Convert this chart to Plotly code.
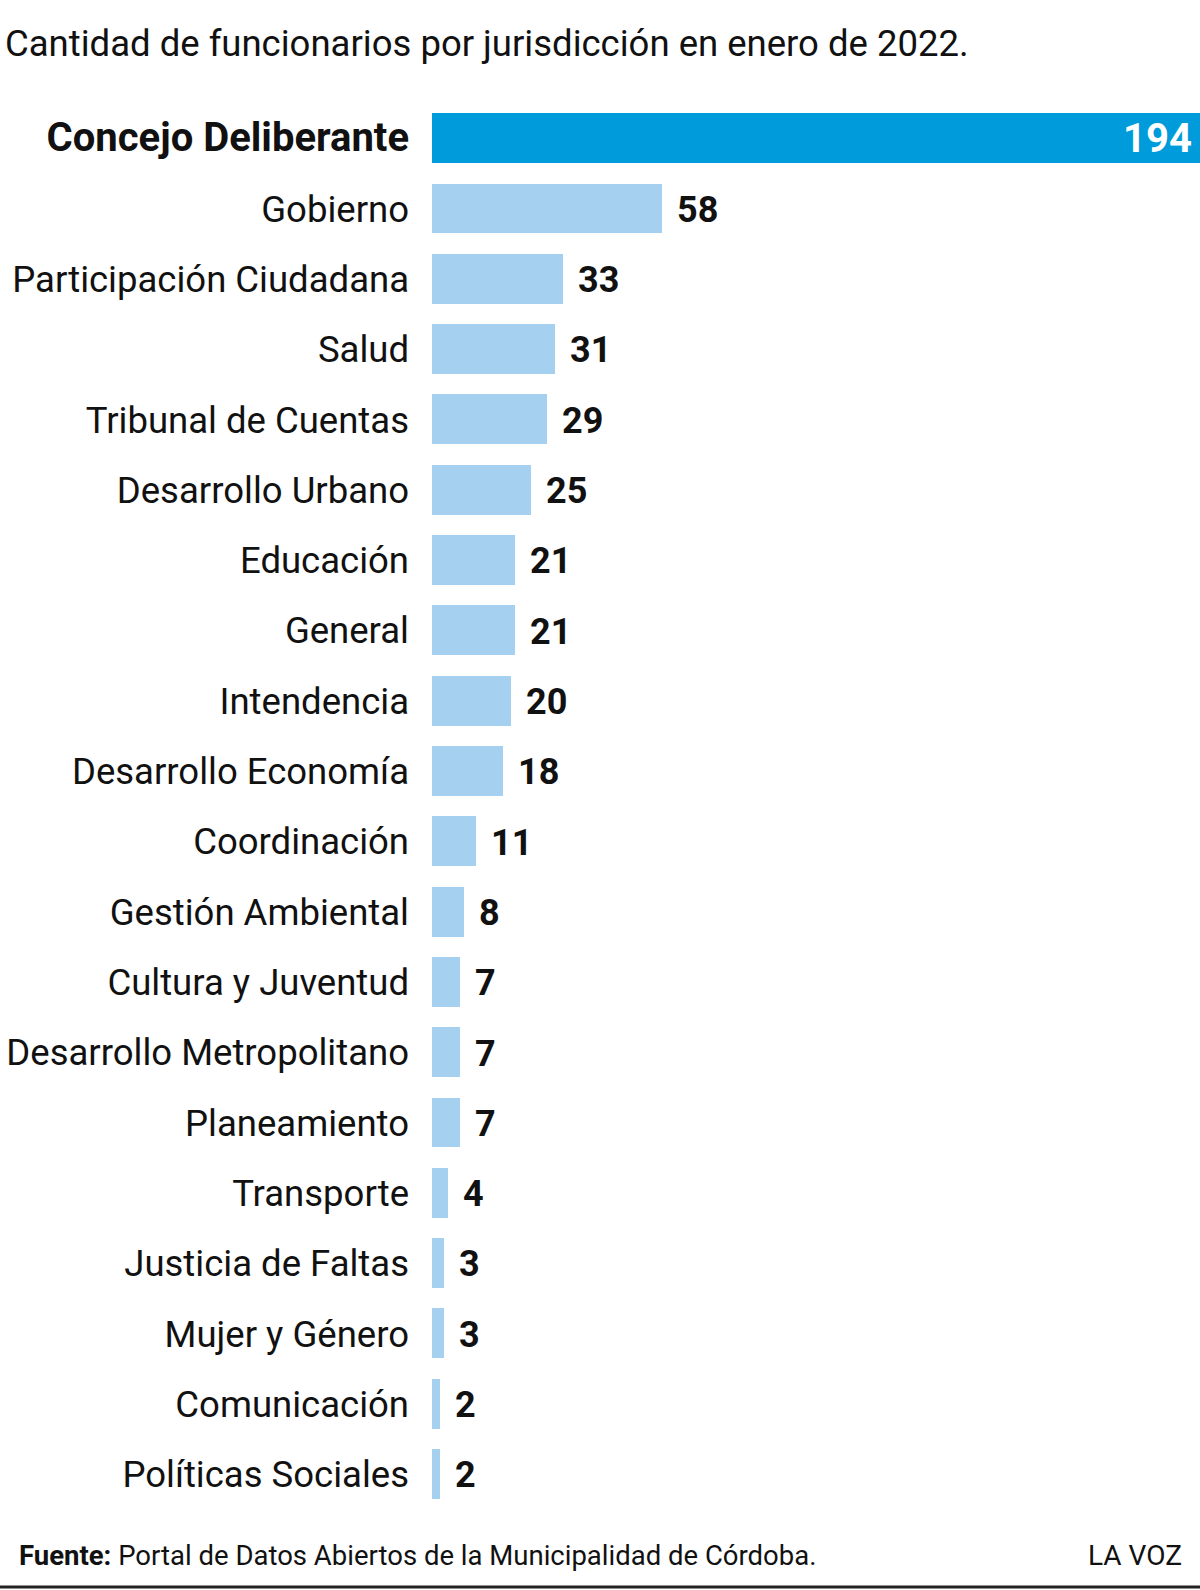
import plotly.graph_objects as go

categories = ["Concejo Deliberante", "Gobierno", "Participación Ciudadana", "Salud",
              "Tribunal de Cuentas", "Desarrollo Urbano", "Educación", "General",
              "Intendencia", "Desarrollo Economía", "Coordinación", "Gestión Ambiental",
              "Cultura y Juventud", "Desarrollo Metropolitano", "Planeamiento", "Transporte",
              "Justicia de Faltas", "Mujer y Género", "Comunicación", "Políticas Sociales"]
values = [194, 58, 33, 31, 29, 25, 21, 21, 20, 18, 11, 8, 7, 7, 7, 4, 3, 3, 2, 2]

title_text = "Cantidad de funcionarios por jurisdicción en enero de 2022."
source_text = "<b>Fuente:</b> Portal de Datos Abiertos de la Municipalidad de Córdoba."
brand_text = "LA VOZ"

FONT = "Roboto, Liberation Sans, sans-serif"
W, H = 1200, 1590
DARK = "#009bda"
LIGHT = "#a5d0f0"
INK = "#111111"

colors = [DARK] + [LIGHT] * (len(values) - 1)
ticktext = ['<span style="font-size:40px"><b>' + categories[0] + "</b></span>"] + categories[1:]

fig = go.Figure()
fig.add_trace(go.Bar(
    x=values, y=categories, orientation="h",
    marker=dict(color=colors, line=dict(width=0)),
    width=0.71,
    hoverinfo="skip",
))

annotations = []
# value of the highlighted bar, inside at its end
annotations.append(dict(x=values[0], y=categories[0], xref="x", yref="y",
                        text="<b>%d</b>" % values[0], showarrow=False,
                        xanchor="right", yanchor="middle", xshift=-6, yshift=0,
                        font=dict(family=FONT, size=40, color="white")))
for c, v in zip(categories[1:], values[1:]):
    annotations.append(dict(x=v, y=c, xref="x", yref="y", text="<b>%d</b>" % v,
                            showarrow=False, xanchor="left", yanchor="middle",
                            xshift=13, yshift=-1,
                            font=dict(family=FONT, size=36, color=INK)))

annotations.append(dict(x=3 / W, y=1 - 44 / H, xref="paper", yref="paper", text=title_text,
                        showarrow=False, xanchor="left", yanchor="middle",
                        font=dict(family=FONT, size=36.5, color=INK)))
annotations.append(dict(x=17 / W, y=1 - 1555 / H, xref="paper", yref="paper", text=source_text,
                        showarrow=False, xanchor="left", yanchor="middle",
                        font=dict(family=FONT, size=27.5, color=INK)))
annotations.append(dict(x=1184 / W, y=1 - 1555 / H, xref="paper", yref="paper", text=brand_text,
                        showarrow=False, xanchor="right", yanchor="middle",
                        font=dict(family=FONT, size=28, color=INK)))

fig.update_layout(
    width=W, height=H,
    margin=dict(l=0, r=0, t=0, b=0),
    paper_bgcolor="white", plot_bgcolor="white",
    showlegend=False,
    bargap=0,
    annotations=annotations,
    shapes=[dict(type="line", xref="paper", yref="paper", x0=0, x1=1,
                 y0=1 - 1587 / H, y1=1 - 1587 / H, line=dict(color="#222222", width=3))],
    xaxis=dict(domain=[432 / W, 1], range=[0, 194], showgrid=False, zeroline=False,
               showticklabels=False, showline=False, fixedrange=True),
    yaxis=dict(domain=[(H - 1509.5) / H, (H - 103.35) / H], autorange="reversed",
               tickmode="array", tickvals=categories, ticktext=ticktext,
               showgrid=False, zeroline=False, showline=False, ticks="",
               ticklabelstandoff=22, automargin=False,
               tickfont=dict(family=FONT, size=36.5, color=INK)),
)

fig.write_html("out.html", config={"displayModeBar": False},
               post_script="document.body.style.margin='0';document.body.style.overflow='hidden';")
